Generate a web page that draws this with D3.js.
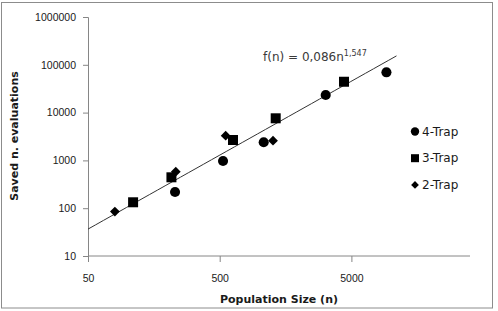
<!DOCTYPE html>
<html>
<head>
<meta charset="utf-8">
<script src="https://cdn.jsdelivr.net/npm/d3@7"></script>
<style>
  html, body { margin: 0; padding: 0; background: #fff; }
  svg { display: block; }
</style>
</head>
<body>
<div id="chart"></div>
<script>
// Valeurs (taille de population, évaluations économisées)
const trap4N = [229, 530, 1079, 3190, 9225];
const trap4V = [218, 971, 2394, 23300, 69600];
const trap3N = [110, 215, 631, 1331, 4395];
const trap3V = [133, 443, 2673, 7600, 44200];
const trap2N = [80, 232, 555, 1270];
const trap2V = [85, 581, 3290, 2583];

const xTicks = [50, 500, 5000];
const yTicks = [10, 100, 1000, 10000, 100000, 1000000];

// Tendance f(n) = 0,086 n^1,547
const fitA = 0.086, fitB = 1.547;
const fitRange = [50, 11000];

const W = 498, H = 311;
const margin = { left: 88, top: 17, right: 28, bottom: 55 };

const svg = d3.select('#chart').append('svg')
    .attr('width', W).attr('height', H)
    .style('font-family', '"DejaVu Sans", sans-serif');

// Cadre extérieur
svg.append('rect')
    .attr('x', 1.5).attr('y', 2.5)
    .attr('width', 491).attr('height', 305.5)
    .attr('fill', 'none').attr('stroke', '#8c8c8c').attr('stroke-width', 1);

const x = d3.scaleLog()
    .domain([50, 50 * Math.pow(10, (470 - 88) / 131.7)])
    .range([margin.left, 470]);
const y = d3.scaleLog()
    .domain([10, 1000000])
    .range([256, margin.top]);

// ── Axes ──
const axisColor = '#868686';
const xAxis = svg.append('g')
    .attr('transform', `translate(0,${y(10)})`)
    .call(d3.axisBottom(x).tickValues(xTicks).tickFormat(d3.format('d')).tickSizeOuter(0).tickSize(6).tickPadding(13));
const yAxis = svg.append('g')
    .attr('transform', `translate(${x(50)},0)`)
    .call(d3.axisLeft(y).tickValues(yTicks).tickFormat(d3.format('d')).tickSizeOuter(0).tickSize(5).tickPadding(7));

[xAxis, yAxis].forEach(g => {
    g.select('.domain').attr('stroke', axisColor);
    g.selectAll('.tick line').attr('stroke', axisColor);
    g.selectAll('.tick text')
        .attr('fill', '#1a1a1a')
        .style('font-size', '10.5px');
});
xAxis.select('.domain').attr('d', `M${x(50)},0H470`);

// ── Tendance ──
const fitPts = d3.range(0, 41).map(i => {
    const n = fitRange[0] * Math.pow(fitRange[1] / fitRange[0], i / 40);
    return [n, fitA * Math.pow(n, fitB)];
});
svg.append('path')
    .datum(fitPts)
    .attr('fill', 'none')
    .attr('stroke', '#333')
    .attr('stroke-width', 1)
    .attr('d', d3.line().x(d => x(d[0])).y(d => y(d[1])));

// ── Symboles ── (losange = carré tourné de 45°)
const sym = {
    circle:  { gen: d3.symbol().type(d3.symbolCircle).size(80), rot: 0 },
    square:  { gen: d3.symbol().type(d3.symbolSquare).size(100), rot: 0 },
    diamond: { gen: d3.symbol().type(d3.symbolSquare).size(48), rot: 45 }
};

const series = [
    { name: '4-Trap', n: trap4N, v: trap4V, shape: 'circle' },
    { name: '3-Trap', n: trap3N, v: trap3V, shape: 'square' },
    { name: '2-Trap', n: trap2N, v: trap2V, shape: 'diamond' }
];

// ordre de dessin : 2-Trap au fond
series.slice().reverse().forEach(s => {
    const m = sym[s.shape];
    svg.append('g').selectAll('path')
        .data(s.n.map((n, i) => [n, s.v[i]]))
        .join('path')
        .attr('transform', d => `translate(${x(d[0])},${y(d[1])}) rotate(${m.rot})`)
        .attr('d', m.gen)
        .attr('fill', '#000');
});

// ── Équation ──
const eq = svg.append('text')
    .attr('x', 263).attr('y', 61)
    .attr('fill', '#3a3a3a')
    .style('font-size', '12px');
eq.append('tspan').text('f(n) = 0,086n');
eq.append('tspan').attr('dy', -5).style('font-size', '8px').text('1,547');

// ── Légende ──
const legSym = {
    circle:  { gen: d3.symbol().type(d3.symbolCircle).size(55), rot: 0 },
    square:  { gen: d3.symbol().type(d3.symbolSquare).size(64), rot: 0 },
    diamond: { gen: d3.symbol().type(d3.symbolSquare).size(30), rot: 45 }
};
const leg = svg.append('g');
series.forEach((s, i) => {
    const yy = 131.5 + i * 26.7;
    const m = legSym[s.shape];
    leg.append('path')
        .attr('transform', `translate(415,${yy}) rotate(${m.rot})`)
        .attr('d', m.gen)
        .attr('fill', '#000');
    leg.append('text')
        .attr('x', 422).attr('y', yy)
        .attr('dy', '0.35em')
        .attr('fill', '#1a1a1a')
        .style('font-size', '12px')
        .text(s.name);
});

// ── Titres d'axes ──
svg.append('text')
    .attr('x', 279).attr('y', 303)
    .attr('text-anchor', 'middle')
    .attr('font-weight', 'bold')
    .attr('fill', '#1a1a1a')
    .style('font-size', '11px')
    .text('Population Size (n)');

svg.append('text')
    .attr('transform', 'translate(18,136) rotate(-90)')
    .attr('text-anchor', 'middle')
    .attr('font-weight', 'bold')
    .attr('fill', '#1a1a1a')
    .style('font-size', '11px')
    .text('Saved n. evaluations');
</script>
</body>
</html>
